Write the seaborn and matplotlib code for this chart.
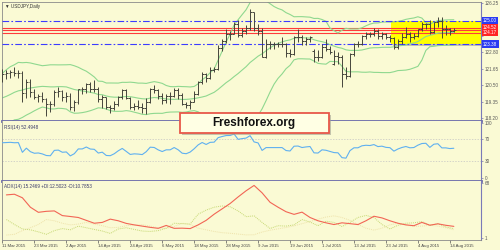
import numpy as np
import pandas as pd
import matplotlib
matplotlib.use("Agg")
import matplotlib.pyplot as plt
import seaborn as sns
from matplotlib.patches import Rectangle

sns.set_theme(style="white")
plt.rcParams['font.family'] = ['Liberation Sans', 'DejaVu Sans']

# ---------------- data ----------------
start_date = "2015-03-11"
symbol_title = "\u25BC USDJPY,Daily"

opens = [121.10,121.30,121.35,121.40,121.35,121.38,119.95,120.75,120.05,119.70,
         119.75,119.55,119.20,119.15,120.05,120.10,119.70,119.75,118.95,119.30,
         120.20,120.20,120.60,120.25,120.20,119.50,119.65,118.95,118.90,119.20,
         119.70,120.15,119.60,118.95,119.05,119.00,118.90,119.35,120.20,120.15,
         119.75,119.45,119.75,119.75,120.15,119.80,119.20,119.10,119.35,119.90,
         120.70,121.30,121.00,121.55,121.60,123.10,123.60,124.05,124.10,124.80,
         124.00,124.30,124.50,125.60,124.50,124.30,122.50,123.40,123.40,123.40,
         123.40,123.40,122.75,122.65,123.85,123.90,123.60,123.75,122.90,122.50,
         122.45,123.15,123.05,122.00,122.55,122.50,121.30,121.15,122.65,123.40,
         123.40,123.95,124.10,124.05,124.30,123.95,124.05,123.85,123.80,123.20,
         123.60,123.90,124.10,123.90,123.95,124.40,124.75,124.80,124.25,124.90,
         125.00,124.40,124.40,124.30]
highs = [121.65,121.55,121.55,121.75,121.55,121.50,120.95,120.90,120.20,119.90,
         120.00,119.60,119.40,120.15,120.35,120.15,120.00,119.95,119.45,120.25,
         120.40,120.65,120.70,120.85,120.35,119.80,119.70,119.10,119.40,119.75,
         120.25,120.20,119.70,119.25,119.45,119.25,119.60,120.30,120.50,120.20,
         119.95,119.85,120.05,120.30,120.30,119.95,119.30,119.45,120.10,120.80,
         121.45,121.35,121.75,121.80,123.30,123.75,124.45,124.30,124.95,125.05,
         124.50,124.70,125.85,125.65,124.75,124.50,123.70,123.60,123.55,123.55,
         123.85,123.45,123.00,123.95,124.45,124.00,123.90,123.95,123.00,122.95,
         123.40,123.70,123.25,122.95,122.80,122.60,121.80,122.75,123.45,123.60,
         124.00,124.25,124.20,124.50,124.45,124.20,124.15,124.00,123.85,123.70,
         124.15,124.60,124.25,124.15,124.45,124.95,124.85,125.05,124.95,125.25,
         125.30,124.70,124.50,124.50]
lows = [120.75,120.95,121.00,121.15,121.00,119.30,119.60,119.65,119.50,119.30,
        119.30,118.35,118.60,119.05,119.70,119.40,119.30,118.75,118.70,119.20,
        119.90,119.95,120.05,120.00,119.35,118.90,118.85,118.55,118.75,119.05,
        119.55,119.50,118.85,118.75,118.80,118.55,118.50,119.25,119.95,119.55,
        119.15,119.25,119.15,119.70,119.55,119.10,118.90,118.85,119.30,119.80,
        120.55,120.75,120.90,121.40,121.55,122.90,123.45,123.65,124.05,123.90,
        123.85,124.05,124.35,124.30,124.00,122.45,122.40,123.00,123.00,123.15,
        123.20,122.50,122.50,122.60,123.50,123.30,123.30,123.55,122.10,122.20,
        122.40,122.90,122.70,121.90,122.00,120.40,120.90,121.10,122.55,123.15,
        123.30,123.75,123.85,123.95,123.75,123.75,123.70,123.50,123.00,123.05,
        123.40,123.80,123.55,123.70,123.85,124.30,124.40,124.05,124.15,124.60,
        123.80,124.00,124.00,124.20]
closes = [121.30,121.35,121.40,121.35,121.38,119.95,120.75,120.05,119.70,119.75,
          119.55,119.20,119.15,120.05,120.10,119.70,119.75,118.95,119.30,120.20,
          120.20,120.60,120.25,120.20,119.50,119.65,118.95,118.90,119.20,119.70,
          120.15,119.60,118.95,119.05,119.00,118.90,119.35,120.20,120.15,119.75,
          119.45,119.75,119.75,120.15,119.80,119.20,119.10,119.35,119.90,120.70,
          121.30,121.00,121.55,121.60,123.10,123.60,124.05,124.10,124.80,124.00,
          124.30,124.50,125.60,124.50,124.30,122.50,123.40,123.40,123.40,123.40,
          123.40,122.75,122.65,123.85,123.90,123.60,123.75,123.85,122.50,122.45,
          123.15,123.05,122.80,122.55,122.50,121.30,121.15,122.65,123.40,123.40,
          123.95,124.10,124.05,124.30,123.95,124.05,123.85,123.80,123.20,123.60,
          123.90,124.10,123.90,123.95,124.40,124.75,124.80,124.25,124.90,125.00,
          124.40,124.40,124.30,124.35]
# closes before the first visible bar (indicator warm-up, Jan-Mar 2015)
prior_closes = [118.50,117.90,116.80,116.30,117.50,117.50,118.90,118.40,118.50,117.70,
                118.30,117.90,117.60,118.40,117.50,117.40,117.60,117.30,117.50,119.10,
                118.60,119.90,120.40,119.20,118.75,118.40,119.30,118.90,118.90,119.00,
                118.80,118.95,118.95,119.50,119.55,120.05,119.70,119.80,120.10,120.80,
                121.10,121.15]

blue_levels = [125.00, 123.38]
red_levels = [124.52, 124.38, 124.17]
blue_box_labels = ["125.00", "123.38"]
red_box_values = [124.52, 124.17]
red_box_labels = ["124.52", "124.17"]
zone_low, zone_high = 123.38, 125.00
zone_start_bar = 97.3

price_ticks = [118.20, 119.35, 120.50, 121.65, 122.80, 123.95, 125.10, 126.25]
price_tick_labels = ["118.20", "119.35", "120.50", "121.65", "122.80", "", "", "126.25"]
rsi_ticks = [0, 30, 70, 100]
rsi_levels = [30, 70]
adx_ticks = [1, 68]

# ADX(14), +DI, -DI read every second bar (bars 1,3,...,113)
adx_vals = [53.5,54.3,50.0,38.5,32.3,33.5,34.0,28.3,27.2,26.0,22.5,19.0,20.0,24.0,22.0,
            18.8,17.0,15.5,14.0,12.8,16.3,12.8,13.0,12.5,17.0,22.5,30.0,36.5,43.0,51.0,
            58.5,65.0,56.0,44.5,38.5,33.0,29.8,32.5,26.0,22.0,19.5,17.4,19.5,18.5,17.4,
            22.0,27.5,25.5,22.0,19.0,17.0,16.0,20.0,16.6,18.3,16.5,15.2]
plus_di = [23.5,17.5,12.0,11.0,8.5,5.5,10.0,12.5,11.0,15.5,13.5,11.5,9.5,6.6,12.0,
           13.5,11.5,9.5,9.0,10.0,13.0,19.0,18.5,18.0,30.0,35.0,38.5,40.0,39.0,34.0,
           27.0,28.0,20.0,12.6,16.0,15.5,17.0,23.5,20.5,16.0,21.5,20.0,15.0,20.0,26.0,
           28.5,26.0,17.5,12.0,16.5,19.0,19.5,21.0,16.6,18.4,14.5,12.5]
minus_di = [4.6,5.5,10.0,13.5,17.5,23.5,22.0,19.0,17.0,18.0,20.0,18.0,16.0,13.5,14.0,
            16.0,16.8,17.2,15.5,13.5,12.6,15.0,19.0,17.5,13.0,11.0,9.0,7.5,6.8,5.8,
            4.8,5.0,8.3,10.5,12.2,13.8,15.8,18.5,21.0,24.0,26.5,28.0,26.0,22.5,17.5,
            13.0,10.6,13.0,17.0,19.0,17.0,15.0,15.5,16.5,15.5,13.5,11.0]

rsi_label = "RSI(14) 52.4948"
adx_label = "ADX(14) 15.2469 +DI:12.5023 -DI:10.7853"
watermark = "Freshforex.org"

# ---------------- derived ----------------
n = len(closes)
dates = pd.bdate_range(start_date, periods=n)
x = np.arange(n)

s = pd.Series(prior_closes + closes, dtype=float)
mid = s.rolling(20).mean()
sd = s.rolling(20).std(ddof=0)
bb_mid = mid.values[-n:]
bb_up = (mid + 2 * sd).values[-n:]
bb_lo = (mid - 2 * sd).values[-n:]

delta = s.diff()
gain = delta.clip(lower=0)
loss = -delta.clip(upper=0)
ag = gain.ewm(alpha=1/14, adjust=False).mean()
al = loss.ewm(alpha=1/14, adjust=False).mean()
rsi = (100 - 100 / (1 + ag / al)).values[-n:]

adx_x = np.arange(1, n, 2)

# ---------------- styling ----------------
bg = "#FAFAD4"
bar_col = "#45453c"
bb_col = "#8fd88f"
frame_col = "#6a6aaa"
lab_col = "#5a5a5a"
fs = 3.3

fig = plt.figure(figsize=(5, 2.5), dpi=100)
fig.patch.set_facecolor(bg)
L, W = 2 / 500, 479 / 500
ax = fig.add_axes([L, 1 - 121 / 250, W, 119 / 250])
ax_r = fig.add_axes([L, 1 - 181 / 250, W, 60 / 250])
ax_a = fig.add_axes([L, 1 - 240 / 250, W, 59 / 250])

xmin, xmax = -0.1, 119.8
for a in (ax, ax_r, ax_a):
    a.set_facecolor(bg)
    a.set_xlim(xmin, xmax)
    a.yaxis.tick_right()
    a.tick_params(axis='y', labelsize=fs, labelcolor=lab_col, color="#7a7aaa",
                  length=1.5, width=0.5, pad=1, right=True, left=False)
    for sp in a.spines.values():
        sp.set_color("#8a8a8a")
        sp.set_linewidth(0.6)
    a.spines['right'].set_color("#7a7ab8")
    a.spines['right'].set_linewidth(0.8)
    a.grid(False)

ax.spines['bottom'].set_color(frame_col); ax.spines['bottom'].set_linewidth(2)
ax_r.spines['top'].set_visible(False)
ax_r.spines['bottom'].set_color(frame_col); ax_r.spines['bottom'].set_linewidth(2)
ax_a.spines['top'].set_visible(False)

# ---------- main panel ----------
ax.set_ylim(117.99, 126.32)
ax.set_yticks(price_ticks)
ax.set_yticklabels(price_tick_labels)
ax.set_xticks([])

ax.add_patch(Rectangle((zone_start_bar + 0.5, zone_low - 0.12), xmax - zone_start_bar,
                       zone_high - zone_low, fc="#9a9a90", ec="none", alpha=0.55, zorder=0.8))
ax.add_patch(Rectangle((zone_start_bar, zone_low), xmax - zone_start_bar + 1,
                       zone_high - zone_low, fc="#FFFF00", ec="none", zorder=1))

for v in blue_levels:
    ax.axhline(v, color="#3c3cff", lw=0.8, ls=(0, (6, 2, 1.5, 2)), zorder=2.6)
for v in red_levels:
    ax.axhline(v, color="#ff3b3b", lw=0.8, zorder=2)

for yv in (bb_up, bb_mid, bb_lo):
    sns.lineplot(x=x, y=yv, ax=ax, color=bb_col, lw=0.8, legend=False, zorder=2.5)

ax.vlines(x, lows, highs, color=bar_col, lw=0.7, zorder=3)
ax.hlines(opens, x - 0.45, x, color=bar_col, lw=0.7, zorder=3)
ax.hlines(closes, x, x + 0.45, color=bar_col, lw=0.7, zorder=3)

ytr = ax.get_yaxis_transform()
for v, t in zip(blue_levels, blue_box_labels):
    ax.text(1.004, v, t, transform=ytr, ha='left', va='center', fontsize=fs, color='white',
            bbox=dict(boxstyle='square,pad=0.3', fc='#2a3cf2', ec='none'), clip_on=False, zorder=10)
for v, t in zip(red_box_values, red_box_labels):
    ax.text(1.004, v, t, transform=ytr, ha='left', va='center', fontsize=fs, color='white',
            bbox=dict(boxstyle='square,pad=0.25', fc='#ff2525', ec='none'), clip_on=False, zorder=10)

ax.text(0.006, 0.985, symbol_title, transform=ax.transAxes, ha='left', va='top',
        fontsize=fs, color="#333333")

# ---------- RSI panel ----------
ax_r.set_ylim(-5.5, 103.6)
ax_r.set_yticks(rsi_ticks)
ax_r.set_yticklabels([str(v) for v in rsi_ticks])
ax_r.set_xticks([])
for v in rsi_levels:
    ax_r.axhline(v, color="#c4c4c4", lw=0.5, ls=(0, (2, 2)), zorder=1)
sns.lineplot(x=x, y=rsi, ax=ax_r, color="#5fb0f0", lw=0.8, legend=False, zorder=3)
ax_r.text(0.004, 0.93, rsi_label, transform=ax_r.transAxes, ha='left', va='top',
          fontsize=fs, color="#3a3a6a")

# ---------- ADX panel ----------
ax_a.set_ylim(-1.4, 70.4)
ax_a.set_yticks(adx_ticks)
ax_a.set_yticklabels([str(v) for v in adx_ticks])
sns.lineplot(x=adx_x, y=minus_di, ax=ax_a, color="#eee2aa", lw=0.7, ls=(0, (1, 1)),
             legend=False, zorder=2)
sns.lineplot(x=adx_x, y=plus_di, ax=ax_a, color="#c6d874", lw=0.7, ls=(0, (1, 1)),
             legend=False, zorder=2.2)
sns.lineplot(x=adx_x, y=adx_vals, ax=ax_a, color="#f26555", lw=0.8, legend=False, zorder=3)
ax_a.text(0.004, 0.95, adx_label, transform=ax_a.transAxes, ha='left', va='top',
          fontsize=fs, color="#3a3a6a")

tick_idx = list(range(0, n, 8))
ax_a.set_xticks(tick_idx)
ax_a.set_xticklabels([f"{dates[i].day} {dates[i]:%b %Y}" for i in tick_idx])
ax_a.tick_params(axis='x', labelsize=3.1, labelcolor="#444444", color="#555555",
                 length=1.8, width=0.5, pad=0.8, bottom=True)
for lbl in ax_a.get_xticklabels():
    lbl.set_horizontalalignment('left')

# ---------- watermark ----------
bx0, by0, bw, bh = 180 / 500, 1 - 133 / 250, 149 / 500, 20 / 250
fig.add_artist(Rectangle((bx0 + 2 / 500, by0 - 2 / 250), bw, bh, transform=fig.transFigure,
                         fc="#a0a090", ec="none", alpha=0.6, zorder=5))
fig.add_artist(Rectangle((bx0, by0), bw, bh, transform=fig.transFigure,
                         fc="#FFFFE4", ec="#e8584a", lw=1.3, zorder=6))
fig.text(bx0 + bw / 2 - 0.002, by0 + bh / 2, watermark, ha='center', va='center',
         fontsize=8.5, fontweight='bold', color="#111111", zorder=7)

fig.savefig("out.png", dpi=100, facecolor=bg)
